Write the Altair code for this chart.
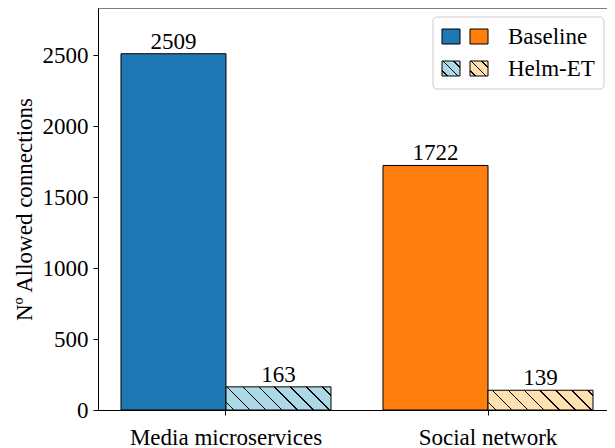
import math
import altair as alt
import pandas as pd

# ---- data ----
groups = ["Media microservices", "Social network"]
variants = ["Baseline", "Helm-ET"]
baseline_values = [2509, 1722]
helm_values = [163, 139]
y_ticks = [0, 500, 1000, 1500, 2000, 2500]

base_colors = ["#1f77b4", "#ff7f0e"]
light_colors = ["#add8e6", "#ffe0b0"]

rows = []
for g, b, h in zip(groups, baseline_values, helm_values):
    rows.append({"group": g, "variant": variants[0], "value": b})
    rows.append({"group": g, "variant": variants[1], "value": h})
df = pd.DataFrame(rows)

# ---- layout ----
W, H = 509, 402
YMAX = 2831
FONT = "Liberation Serif"
FS = 23
PX = H / YMAX
BAR_W = 105


def hatch(fill, w, h, spacing, lw=1.3, color="#000000"):
    """Diagonal '\\' hatch as a sharp-stop linear gradient (objectBoundingBox)."""
    D = (w + h) / math.sqrt(2)
    t = (w + h) / (w * w + h * h)
    x2, y2 = t * w, 1 - t * h
    stops = [alt.GradientStop(color=fill, offset=0)]
    pos = spacing * 0.5
    while pos < D:
        a = max(0.0, (pos - lw / 2) / D)
        b = min(1.0, (pos + lw / 2) / D)
        stops += [
            alt.GradientStop(color=fill, offset=a),
            alt.GradientStop(color=color, offset=a),
            alt.GradientStop(color=color, offset=b),
            alt.GradientStop(color=fill, offset=b),
        ]
        pos += spacing
    stops.append(alt.GradientStop(color=fill, offset=1))
    return alt.LinearGradient(gradient="linear", stops=stops, x1=0, y1=1, x2=x2, y2=y2)


x_enc = alt.X(
    "group:N",
    sort=groups,
    title=None,
    scale=alt.Scale(paddingInner=52 / 262, paddingOuter=0.0706, align=0.6216),
    axis=alt.Axis(labelAngle=0, tickSize=5, labelPadding=11, domainColor="black",
                  tickColor="black", labelFontSize=FS, labelFont=FONT, labelColor="black",
                  labelLimit=0),
)
xoff_enc = alt.XOffset("variant:N", sort=variants,
                       scale=alt.Scale(domain=variants, paddingInner=0, paddingOuter=0))
y_enc = alt.Y(
    "value:Q",
    scale=alt.Scale(domain=[0, YMAX], nice=False, zero=True),
    axis=alt.Axis(values=y_ticks, format="d", title="Nº Allowed connections", tickSize=5,
                  labelPadding=5, domainColor="black", tickColor="black", labelFontSize=FS,
                  labelFont=FONT, labelColor="black", titleFontSize=FS, titleFont=FONT,
                  titleFontWeight="normal", titleColor="black", titlePadding=6, grid=False),
)

base = alt.Chart(df)

baseline_bars = base.transform_filter(alt.datum.variant == variants[0]).mark_bar(
    stroke="black", strokeWidth=1
).encode(
    x=x_enc, xOffset=xoff_enc, y=y_enc,
    color=alt.Color("group:N", scale=alt.Scale(domain=groups, range=base_colors), legend=None),
)

helm_layers = []
for g, v, lc in zip(groups, helm_values, light_colors):
    helm_layers.append(
        base.transform_filter((alt.datum.variant == variants[1]) & (alt.datum.group == g))
        .mark_bar(fill=hatch(lc, BAR_W, v * PX, 11.3), stroke="black", strokeWidth=1)
        .encode(x=x_enc, xOffset=xoff_enc, y=y_enc)
    )

labels = base.mark_text(baseline="alphabetic", dy=-5, fontSize=FS, font=FONT, color="black").encode(
    x=x_enc, xOffset=xoff_enc, y=y_enc, text=alt.Text("value:Q", format="d")
)

one = alt.Chart(pd.DataFrame({"k": [0]}))
top_spine = one.mark_rule(color="black", strokeWidth=1).encode(
    x=alt.value(0), x2=alt.value(W), y=alt.value(0)
)

# ---- legend ----
legend_box = one.mark_rect(fill="white", fillOpacity=0.8, stroke="#cccccc", strokeWidth=1,
                           cornerRadius=4).encode(
    x=alt.value(335), x2=alt.value(506), y=alt.value(9), y2=alt.value(81)
)
legend_items = [legend_box]
sq_x = [(344, 362), (372, 390)]
row_y = [(21, 36), (53, 68)]
for i in range(2):
    for j in range(2):
        if i == 0:
            fill = base_colors[j]
        else:
            fill = hatch(light_colors[j], 18, 15, 7.5, lw=1.2)
        legend_items.append(
            one.mark_rect(fill=fill, stroke="black", strokeWidth=1).encode(
                x=alt.value(sq_x[j][0]), x2=alt.value(sq_x[j][1]),
                y=alt.value(row_y[i][0]), y2=alt.value(row_y[i][1]))
        )
    legend_items.append(
        one.mark_text(align="left", baseline="alphabetic", fontSize=FS, font=FONT, color="black")
        .encode(x=alt.value(410), y=alt.value(row_y[i][1]), text=alt.value(variants[i]))
    )

chart = alt.layer(baseline_bars, *helm_layers, labels, top_spine, *legend_items).properties(
    width=W, height=H,
    padding={"left": 90, "top": 0, "right": 0, "bottom": 38},
    autosize=alt.AutoSizeParams(type="none"),
).configure(font=FONT).configure_view(stroke=None).configure_axis(
    grid=False, labelFont=FONT, titleFont=FONT)

chart.save("out.html", embed_options={"renderer": "svg", "actions": False})
